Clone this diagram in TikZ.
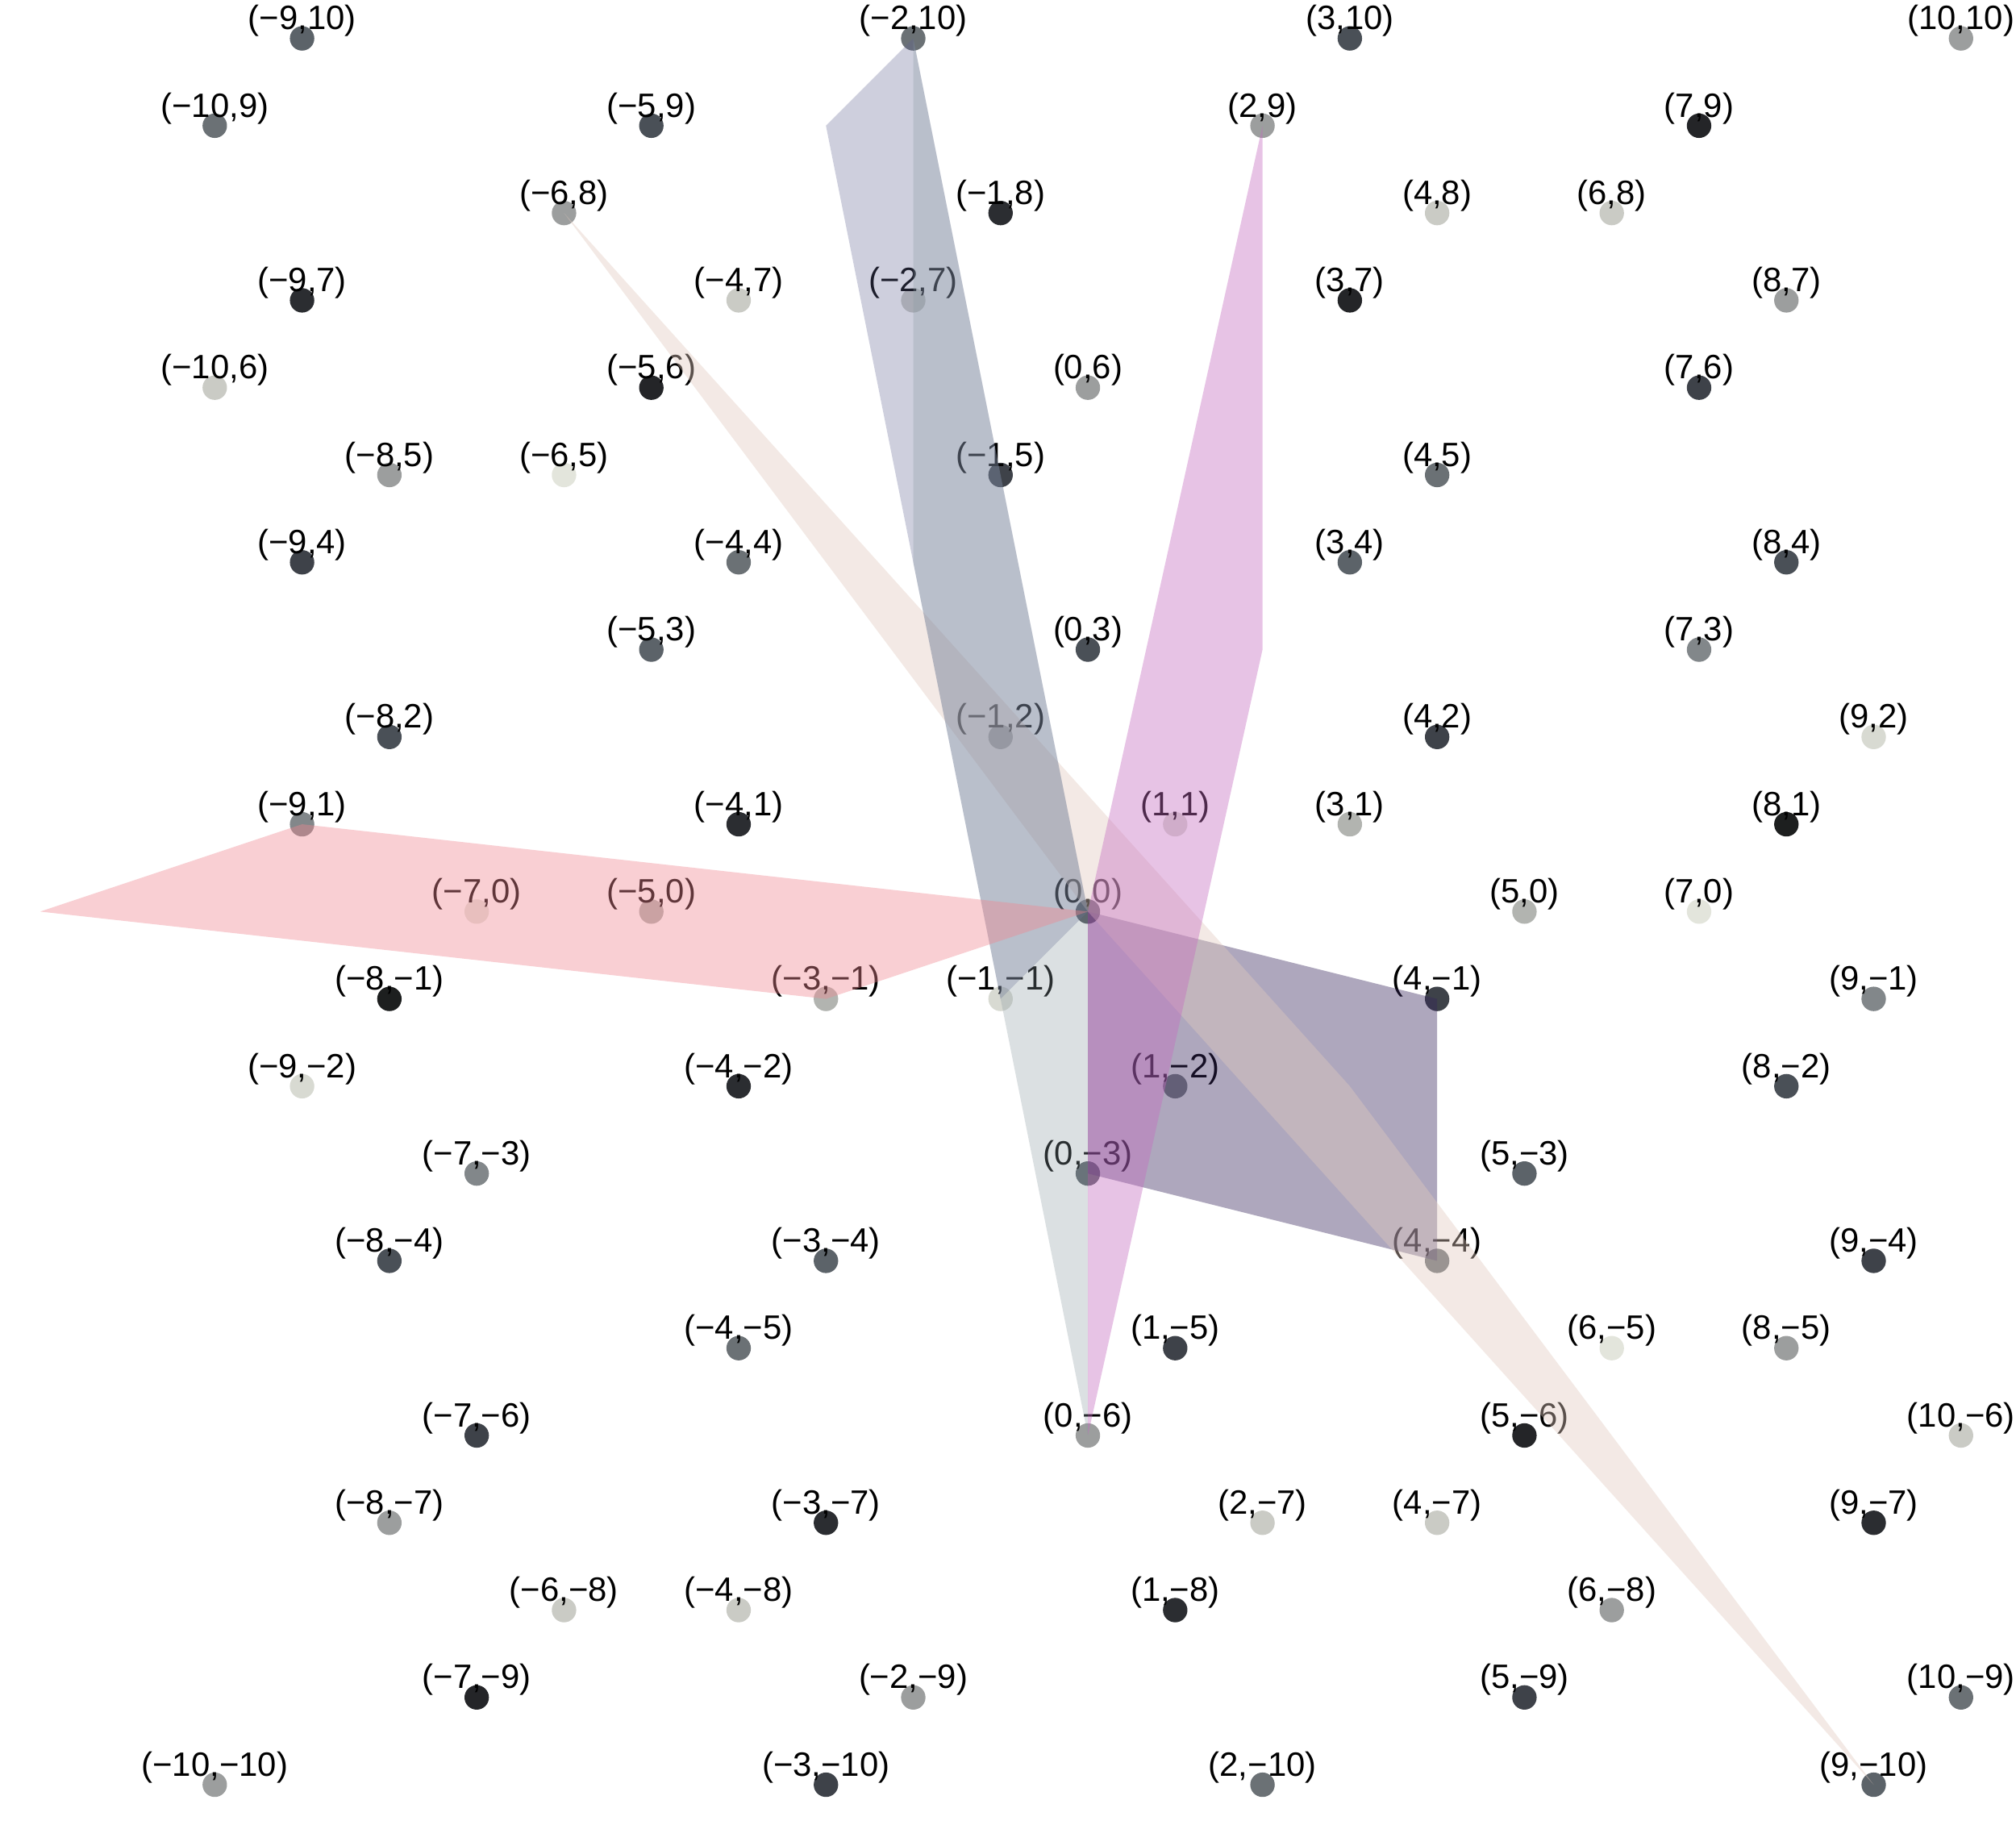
\documentclass[tikz,border=0pt]{standalone}
\usepackage{fontspec}
\setmainfont{Liberation Sans}
\usepackage{xcolor}
\usepackage{tikz}
\definecolor{ptZ}{HTML}{1D1F1F}
\definecolor{ptA}{HTML}{242528}
\definecolor{ptB}{HTML}{2B2D31}
\definecolor{ptC}{HTML}{3E4249}
\definecolor{ptD}{HTML}{4A5057}
\definecolor{ptE}{HTML}{5C6369}
\definecolor{ptF}{HTML}{6B7175}
\definecolor{ptG}{HTML}{82878A}
\definecolor{ptH}{HTML}{9C9E9E}
\definecolor{ptI}{HTML}{B2B4B0}
\definecolor{ptJ}{HTML}{CACBC5}
\definecolor{ptK}{HTML}{D8DAD2}
\definecolor{ptL}{HTML}{E3E5DC}
\definecolor{cellRed}{HTML}{F08791}
\definecolor{cellMagenta}{HTML}{C56BC0}
\definecolor{cellPurple}{HTML}{35255C}
\definecolor{cellBeige}{HTML}{E1CABE}
\definecolor{cellLavender}{HTML}{5F6291}
\definecolor{cellPale}{HTML}{8A9BA2}
\tikzset{
  dot/.style={circle,inner sep=0pt,minimum size=2.8mm},
  lbl/.style={anchor=base,inner sep=0pt,font=\fontsize{11}{13}\selectfont},
  cellpurple/.style={fill=cellPurple,fill opacity=0.4},
  cellbeige/.style={fill=cellBeige,fill opacity=0.4},
  cellmagenta/.style={fill=cellMagenta,fill opacity=0.4},
  celllavender/.style={fill=cellLavender,fill opacity=0.3},
  cellpale/.style={fill=cellPale,fill opacity=0.3},
  cellred/.style={fill=cellRed,fill opacity=0.4},
}
% coordinate label with a real minus sign
\newcommand\lblnum[1]{\ifnum#1<0 −\number-#1\else#1\fi}
\def\ptlist{-9/10/ptE, -2/10/ptF, 3/10/ptD, 10/10/ptH,
  -10/9/ptF, -5/9/ptD, 2/9/ptH, 7/9/ptA,
  -6/8/ptH, -1/8/ptB, 4/8/ptJ, 6/8/ptJ,
  -9/7/ptB, -4/7/ptJ, -2/7/ptJ, 3/7/ptA, 8/7/ptH,
  -10/6/ptJ, -5/6/ptA, 0/6/ptH, 7/6/ptC,
  -8/5/ptH, -6/5/ptL, -1/5/ptC, 4/5/ptF,
  -9/4/ptC, -4/4/ptF, 3/4/ptE, 8/4/ptD,
  -5/3/ptE, 0/3/ptD, 7/3/ptG,
  -8/2/ptD, -1/2/ptH, 4/2/ptC, 9/2/ptK,
  -9/1/ptG, -4/1/ptB, 1/1/ptK, 3/1/ptI, 8/1/ptZ,
  -7/0/ptL, -5/0/ptI, 0/0/ptD, 5/0/ptI, 7/0/ptL,
  -8/-1/ptZ, -3/-1/ptI, -1/-1/ptK, 4/-1/ptC, 9/-1/ptG,
  -9/-2/ptK, -4/-2/ptB, 1/-2/ptG, 8/-2/ptD,
  -7/-3/ptG, 0/-3/ptE, 5/-3/ptE,
  -8/-4/ptD, -3/-4/ptE, 4/-4/ptF, 9/-4/ptC,
  -4/-5/ptF, 1/-5/ptC, 6/-5/ptL, 8/-5/ptH,
  -7/-6/ptC, 0/-6/ptH, 5/-6/ptA, 10/-6/ptJ,
  -8/-7/ptH, -3/-7/ptB, 2/-7/ptJ, 4/-7/ptJ, 9/-7/ptB,
  -6/-8/ptJ, -4/-8/ptJ, 1/-8/ptB, 6/-8/ptH,
  -7/-9/ptA, -2/-9/ptH, 5/-9/ptC, 10/-9/ptF,
  -10/-10/ptH, -3/-10/ptC, 2/-10/ptF, 9/-10/ptE}

\begin{document}
\begin{tikzpicture}
\path[use as bounding box,fill=white] (-12.46,-10.46) rectangle (10.63,10.44);
% lattice points
\foreach \x/\y/\c in \ptlist
  \node[dot,fill=\c] (p\x_\y) at (\x,\y) {};
% their labels
\foreach \x/\y/\c in \ptlist
  \node[lbl] (l\x_\y) at ([yshift=1mm]p\x_\y.center) {(\lblnum{\x},\lblnum{\y})};
% fundamental cells
\fill[cellpurple] (0,0) -- (4,-1) -- (4,-4) -- (0,-3) -- cycle;
\fill[cellbeige] (0,0) -- (-6,8) -- (3,-2) -- (9,-10) -- cycle;
\fill[cellmagenta] (0,0) -- (0,-6) -- (2,3) -- (2,9) -- cycle;
\fill[celllavender] (0,0) -- (-1,-1) -- (-3,9) -- (-2,10) -- cycle;
\fill[cellpale] (0,0) -- (0,-6) -- (-2,4) -- (-2,10) -- cycle;
\fill[cellred] (0,0) -- (-3,-1) -- (-12,0) -- (-9,1) -- cycle;
\end{tikzpicture}
\end{document}
